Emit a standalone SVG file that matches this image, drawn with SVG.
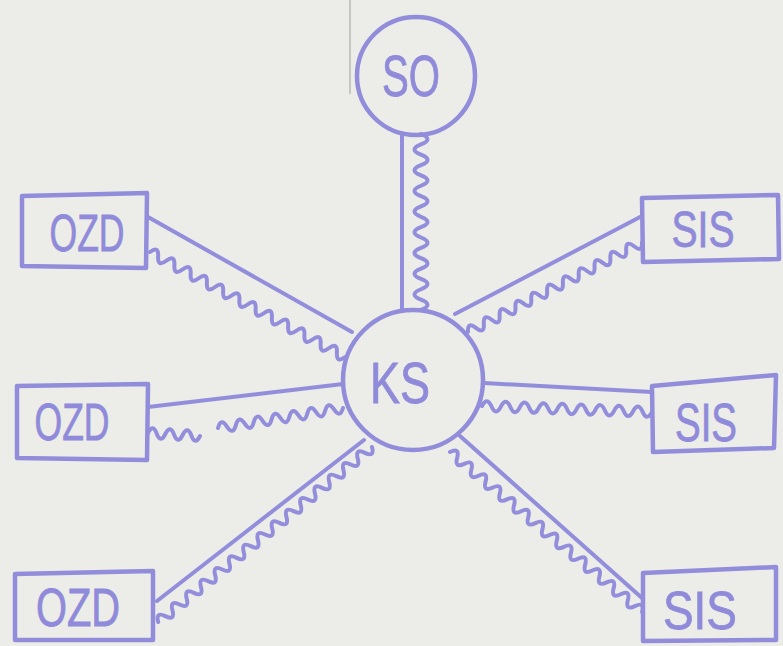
<svg xmlns="http://www.w3.org/2000/svg" width="783" height="646" viewBox="0 0 783 646">
<style>
.ink{fill:none;stroke:#928ddb;stroke-width:4.5;stroke-linecap:round;stroke-linejoin:round}
.wire{fill:none;stroke:#938edc;stroke-width:4;stroke-linecap:round;stroke-linejoin:round}
.lbl{font-family:"Liberation Sans",Arial,sans-serif;fill:#8f8ad9;stroke:#8f8ad9;stroke-width:0.8;text-anchor:middle}
</style>
<rect width="783" height="646" fill="#ecece8"/>
<line x1="350" y1="0" x2="350" y2="94" stroke="#b8b8b5" stroke-width="1.5"/>
<g id="connectors">
<line class="wire" x1="402" y1="133" x2="402" y2="311"/>
<path class="wire" transform="translate(421,134) rotate(90)" d="M0,0 q5.18,-13 10.35,0 t10.35,0 t10.35,0 t10.35,0 t10.35,0 t10.35,0 t10.35,0 t10.35,0 t10.35,0 t10.35,0 t10.35,0 t10.35,0 t10.35,0 t10.35,0 t10.35,0 t10.35,0 t10.35,0"/>
<line class="wire" x1="148" y1="217" x2="352" y2="332"/>
<path class="wire" transform="translate(150,252) rotate(28.3)" d="M0,0 q4.6,-10 9.23,0 t9.23,0 t9.23,0 t9.23,0 t9.23,0 t9.23,0 t9.23,0 t9.23,0 t9.23,0 t9.23,0 t9.23,0 t9.23,0 t9.23,0 t9.23,0 t9.23,0 t9.23,0 t9.23,0 t9.23,0 t9.23,0 t9.23,0 t9.23,0 t9.23,0 t9.23,0 t9.23,0"/>
<line class="wire" x1="148" y1="407" x2="343" y2="384"/>
<path class="wire" transform="translate(148,433) rotate(3.3)" d="M0,0 q4.34,-10 8.68,0 t8.68,0 t8.68,0 t8.68,0 t8.68,0 t8.68,0"/>
<path class="wire" transform="translate(218,428) rotate(-9.1)" d="M0,0 q4.52,-10 9.04,0 t9.04,0 t9.04,0 t9.04,0 t9.04,0 t9.04,0 t9.04,0 t9.04,0 t9.04,0 t9.04,0 t9.04,0 t9.04,0 t9.04,0 t9.04,0"/>
<line class="wire" x1="364" y1="440" x2="157" y2="601"/>
<path class="wire" transform="translate(372,447) rotate(140.7)" d="M0,0 q4.6,-10 9.21,0 t9.21,0 t9.21,0 t9.21,0 t9.21,0 t9.21,0 t9.21,0 t9.21,0 t9.21,0 t9.21,0 t9.21,0 t9.21,0 t9.21,0 t9.21,0 t9.21,0 t9.21,0 t9.21,0 t9.21,0 t9.21,0 t9.21,0 t9.21,0 t9.21,0 t9.21,0 t9.21,0 t9.21,0 t9.21,0 t9.21,0 t9.21,0 t9.21,0 t9.21,0"/>
<line class="wire" x1="455" y1="314" x2="642" y2="216"/>
<path class="wire" transform="translate(468,332) rotate(-27.3)" d="M0,0 q4.45,-10 8.9,0 t8.9,0 t8.9,0 t8.9,0 t8.9,0 t8.9,0 t8.9,0 t8.9,0 t8.9,0 t8.9,0 t8.9,0 t8.9,0 t8.9,0 t8.9,0 t8.9,0 t8.9,0 t8.9,0 t8.9,0 t8.9,0 t8.9,0 t8.9,0 t8.9,0"/>
<line class="wire" x1="484" y1="383" x2="652" y2="392"/>
<path class="wire" transform="translate(482,406) rotate(2)" d="M0,0 q4.72,-10 9.45,0 t9.45,0 t9.45,0 t9.45,0 t9.45,0 t9.45,0 t9.45,0 t9.45,0 t9.45,0 t9.45,0 t9.45,0 t9.45,0 t9.45,0 t9.45,0 t9.45,0 t9.45,0 t9.45,0 t9.45,0"/>
<line class="wire" x1="460" y1="436" x2="642" y2="598"/>
<path class="wire" transform="translate(450,452) rotate(39.8)" d="M0,0 q4.63,-10 9.26,0 t9.26,0 t9.26,0 t9.26,0 t9.26,0 t9.26,0 t9.26,0 t9.26,0 t9.26,0 t9.26,0 t9.26,0 t9.26,0 t9.26,0 t9.26,0 t9.26,0 t9.26,0 t9.26,0 t9.26,0 t9.26,0 t9.26,0 t9.26,0 t9.26,0 t9.26,0 t9.26,0 t9.26,0 t9.26,0 t9.26,0"/>
</g>
<g id="SO"><circle class="ink" cx="416" cy="76" r="59"/><text class="lbl" x="411" y="96" font-size="58" textLength="58" lengthAdjust="spacingAndGlyphs">SO</text></g>
<g id="KS"><circle class="ink" cx="413" cy="380" r="70"/><text class="lbl" x="400" y="403" font-size="58" textLength="60" lengthAdjust="spacingAndGlyphs">KS</text></g>
<g id="OZD1"><path class="ink" d="M22,196 L147,193 L146,268 L22,266 Z"/><text class="lbl" x="87" y="251" font-size="51" textLength="75" lengthAdjust="spacingAndGlyphs">OZD</text></g>
<g id="OZD2"><path class="ink" d="M17,386 L148,384 L147,460 L17,458 Z"/><text class="lbl" x="72" y="440" font-size="51" textLength="75" lengthAdjust="spacingAndGlyphs">OZD</text></g>
<g id="OZD3"><path class="ink" d="M15,574 L153,571 L153,640 L15,640 Z"/><text class="lbl" x="78" y="626" font-size="53" textLength="84" lengthAdjust="spacingAndGlyphs">OZD</text></g>
<g id="SIS1"><path class="ink" d="M642,198 L778,195 L779,259 L643,262 Z"/><text class="lbl" x="703" y="247" font-size="50" textLength="63" lengthAdjust="spacingAndGlyphs">SIS</text></g>
<g id="SIS2"><path class="ink" d="M652,386 L776,375 L774,448 L653,452 Z"/><text class="lbl" x="706" y="441" font-size="53" textLength="62" lengthAdjust="spacingAndGlyphs">SIS</text></g>
<g id="SIS3"><path class="ink" d="M643,573 L776,567 L776,640 L643,641 Z"/><text class="lbl" x="700" y="629" font-size="54" textLength="74" lengthAdjust="spacingAndGlyphs">SIS</text></g>
</svg>
